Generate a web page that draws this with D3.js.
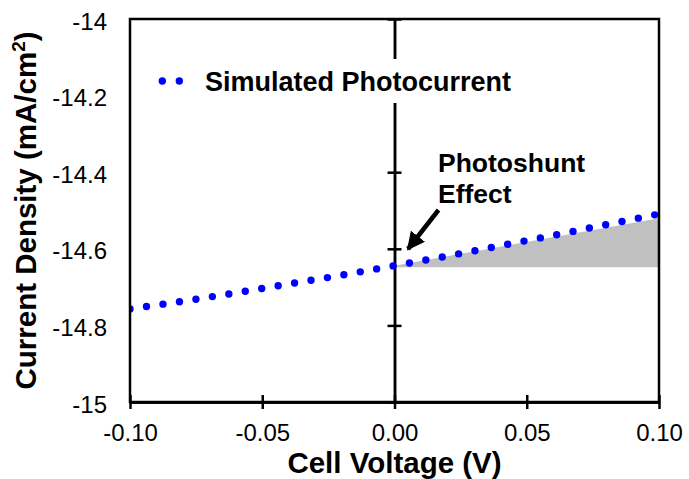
<!DOCTYPE html>
<html>
<head>
<meta charset="utf-8">
<script src="https://cdn.jsdelivr.net/npm/d3@7"></script>
<style>
  body { margin: 0; background: #fff; }
  svg text { font-family: "Liberation Sans", Arial, Helvetica, sans-serif; fill: #000; }
</style>
</head>
<body>
<svg id="chart" width="689" height="479"></svg>
<script>
// data
const voltage = [-0.10, -0.08, -0.06, -0.04, -0.02, 0.00, 0.02, 0.04, 0.06, 0.08, 0.10]
const photocurrent = [-14.757, -14.737, -14.715, -14.692, -14.669, -14.644, -14.619, -14.592, -14.565, -14.537, -14.509]
const shadeVoltage = [0.00, 0.10]
const shadeTop = [-14.644, -14.520]
const shadeBase = [-14.648, -14.648]
const xTicks = [-0.10, -0.05, 0.00, 0.05, 0.10]
const yTicks = [-15, -14.8, -14.6, -14.4, -14.2, -14]

const width = 689, height = 479
const margin = {top: 19, right: 30, bottom: 77, left: 130}
const innerW = width - margin.left - margin.right
const innerH = height - margin.top - margin.bottom

const svg = d3.select('#chart')
const g = svg.append('g').attr('transform', `translate(${margin.left},${margin.top})`)

const x = d3.scaleLinear().domain([-0.10, 0.10]).range([0, innerW])
const y = d3.scaleLinear().domain([-15, -14]).range([innerH, 0])

svg.append('defs').append('clipPath').attr('id', 'plotClip')
    .append('rect').attr('width', innerW).attr('height', innerH)

//shaded photoshunt region
const shade = shadeVoltage.map((v, i) => ({v: v, top: shadeTop[i], base: shadeBase[i]}))
g.append('path')
    .datum(shade)
    .attr('d', d3.area().x(d => x(d.v)).y0(d => y(d.base)).y1(d => y(d.top)))
    .attr('fill', '#c0c0c0')

//center vertical axis with cross ticks
const centerAxis = g.append('g').attr('transform', `translate(${x(0)},0)`)
centerAxis.append('g').call(d3.axisLeft(y).tickValues(yTicks).tickSize(7).tickSizeOuter(0).tickFormat(''))
centerAxis.append('g').call(d3.axisRight(y).tickValues(yTicks).tickSize(7).tickSizeOuter(0).tickFormat(''))
centerAxis.selectAll('path, line').attr('stroke', '#000').attr('stroke-width', 2.5)

//bottom axis ticks (cross)
const bottom = g.append('g').attr('transform', `translate(0,${innerH})`)
bottom.append('g').call(d3.axisBottom(x).tickValues(xTicks).tickSize(7).tickSizeOuter(0).tickFormat(''))
bottom.append('g').call(d3.axisTop(x).tickValues(xTicks).tickSize(7).tickSizeOuter(0).tickFormat(''))
bottom.selectAll('path, line').attr('stroke', '#000').attr('stroke-width', 2.5)

//tick labels
const xLabels = g.append('g').attr('transform', `translate(0,${innerH})`)
    .call(d3.axisBottom(x).tickValues(xTicks).tickSize(0).tickFormat(d => d.toFixed(2)))
xLabels.select('.domain').remove()
xLabels.selectAll('text').attr('y', 39).attr('dy', 0).style('font-size', '24px')

const yLabels = g.append('g')
    .call(d3.axisLeft(y).tickValues(yTicks).tickSize(0).tickFormat(d => String(+d.toFixed(1))))
yLabels.select('.domain').remove()
yLabels.selectAll('text').attr('x', -23).attr('dy', 10).style('font-size', '24px')

//dotted photocurrent line
const pts = voltage.map((v, i) => [v, photocurrent[i]])
g.append('path')
    .datum(pts)
    .attr('clip-path', 'url(#plotClip)')
    .attr('d', d3.line().x(d => x(d[0])).y(d => y(d[1])))
    .attr('fill', 'none')
    .attr('stroke', '#0000ff')
    .attr('stroke-width', 7.4)
    .attr('stroke-linecap', 'round')
    .attr('stroke-dasharray', '0 16.66')

//plot frame
g.append('rect')
    .attr('width', innerW).attr('height', innerH)
    .attr('fill', 'none').attr('stroke', '#000').attr('stroke-width', 2.5)

//legend
const legend = g.append('g')
legend.append('rect').attr('x', 20).attr('y', 40).attr('width', 370).attr('height', 44).attr('fill', '#fff')
legend.selectAll('circle').data([162.3, 179.3]).join('circle')
    .attr('cx', d => d - margin.left).attr('cy', 81 - margin.top).attr('r', 3.7).attr('fill', '#0000ff')
legend.append('text')
    .attr('x', 205 - margin.left).attr('y', 90.7 - margin.top)
    .style('font-size', '27px').style('font-weight', 'bold')
    .text('Simulated Photocurrent')

//annotation
const note = g.append('text')
    .attr('x', 438 - margin.left).attr('y', 171.7 - margin.top)
    .style('font-size', '26.5px').style('font-weight', 'bold')
note.append('tspan').text('Photoshunt')
note.append('tspan').attr('x', 438 - margin.left).attr('dy', 31).text('Effect')

svg.append('defs').append('marker')
    .attr('id', 'arrowHead').attr('viewBox', '0 0 10 10').attr('refX', 9).attr('refY', 5)
    .attr('markerWidth', 4).attr('markerHeight', 4).attr('orient', 'auto')
    .append('path').attr('d', 'M0,0L10,5L0,10z').attr('fill', '#000')
g.append('line')
    .attr('x1', 438.5 - margin.left).attr('y1', 210 - margin.top)
    .attr('x2', 408 - margin.left).attr('y2', 249 - margin.top)
    .attr('stroke', '#000').attr('stroke-width', 4.5)
    .attr('marker-end', 'url(#arrowHead)')

//axis titles
svg.append('text')
    .attr('x', margin.left + innerW / 2).attr('y', 473)
    .attr('text-anchor', 'middle')
    .style('font-size', '29.5px').style('font-weight', 'bold')
    .text('Cell Voltage (V)')

const yTitle = svg.append('text')
    .attr('transform', `translate(36,${margin.top + innerH / 2}) rotate(-90)`)
    .attr('text-anchor', 'middle')
    .style('font-size', '29.5px').style('font-weight', 'bold')
yTitle.append('tspan').text('Current Density (mA/cm')
yTitle.append('tspan').attr('dy', -11).style('font-size', '19px').text('2')
yTitle.append('tspan').attr('dy', 11).text(')')
</script>
</body>
</html>
